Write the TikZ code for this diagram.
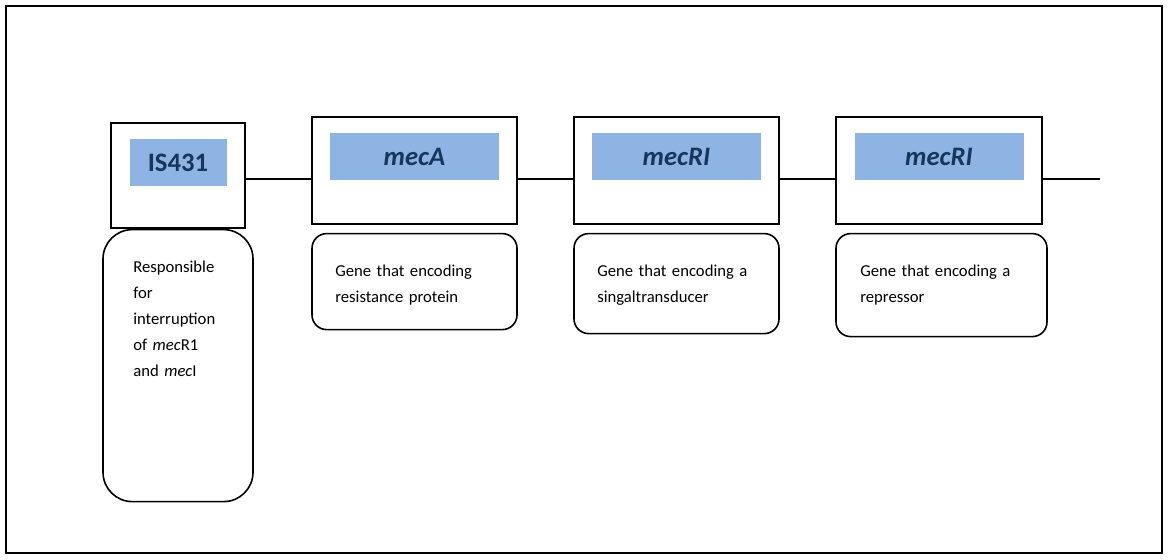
\documentclass[tikz,border=0pt]{standalone}
\usepackage{fontspec}
\setmainfont{Carlito}
\usetikzlibrary{positioning}
\definecolor{genefill}{RGB}{141,180,226}
\definecolor{genetext}{RGB}{23,54,93}
\begin{document}
\begin{tikzpicture}[x=0.75pt,y=-0.75pt]

        \tikzstyle{genebox} = [rectangle, draw=black, line width=1.2pt, minimum width=153.75pt, minimum height=80.25pt, inner sep=0pt]
        \tikzstyle{genename} = [rectangle, fill=genefill, minimum width=126.75pt, minimum height=35.25pt, inner sep=0pt, text=genetext, font=\fontsize{20}{22}\selectfont\bfseries]
        \tikzstyle{note} = [rectangle, rounded corners=11pt, draw=black, line width=1.2pt, minimum width=153.75pt, inner sep=0pt]
        \tikzstyle{notetext} = [anchor=north west, inner sep=0pt, align=left, text width=120pt, font=\fontsize{12.5}{19.5}\selectfont]
        \tikzstyle{spine} = [line width=1.2pt]

        % frame and picture size
        \useasboundingbox (0,0) rectangle (1168,560);
        \draw [line width=0.9pt] (6,6) rectangle (1162,553);

        % genes
        \node (is) [genebox, minimum width=100.5pt, minimum height=78.75pt] at (178,175.5) {};
        \node (meca) [genebox] at (414.5,170.5) {};
        \node (mecr) [genebox] at (676.5,170.5) {};
        \node (mecrep) [genebox, minimum width=154.5pt] at (939,170.5) {};

        \node (isname) [genename, minimum width=72.75pt, below=12.75pt of is.north] {IS431};
        \node (mecaname) [genename, below=12.75pt of meca.north] {\itshape mecA};
        \node (mecrname) [genename, below=12.75pt of mecr.north] {\itshape mecRI};
        \node (mecrepname) [genename, below=12.75pt of mecrep.north] {\itshape mecRI};

        % descriptions
        \node (isdesc) [note, rounded corners=22pt, minimum width=112.5pt, minimum height=204pt, below=0pt of is] {};
        \node (mecadesc) [note, minimum height=72pt, below=6pt of meca] {};
        \node (mecrdesc) [note, minimum height=75pt, below=6pt of mecr] {};
        \node (mecrepdesc) [note, minimum width=158.25pt, minimum height=77.25pt, below=6pt of mecrep.south west, anchor=north west] {};

        \node (isnote) [notetext, text width=80pt] at (133,261) {Responsible\\for\\interruption\\of \textit{mec}R1\\and \textit{mec}I};
        \node (mecanote) [notetext] at (335,265) {Gene that encoding\\resistance protein};
        \node (mecrnote) [notetext] at (597,265) {Gene that encoding a\\singaltransducer};
        \node (mecrepnote) [notetext] at (860,265) {Gene that encoding a\\repressor};

        % backbone
        \coordinate (axis) at (0,179);
        \coordinate (tail) at (1100,179);
        \draw [spine] (axis -| is.east) -- (axis -| meca.west);
        \draw [spine] (axis -| meca.east) -- (axis -| mecr.west);
        \draw [spine] (axis -| mecr.east) -- (axis -| mecrep.west);
        \draw [spine] (axis -| mecrep.east) -- (tail);

    \end{tikzpicture}
\end{document}
